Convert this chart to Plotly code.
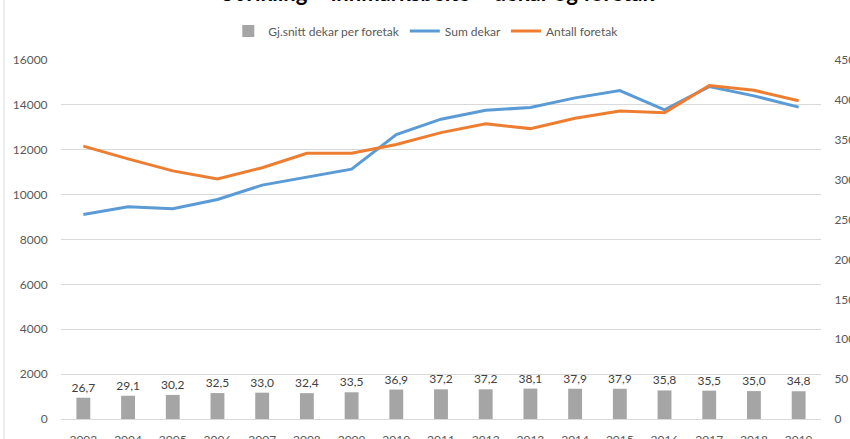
import plotly.graph_objects as go

years = ["2003", "2004", "2005", "2006", "2007", "2008", "2009", "2010", "2011",
         "2012", "2013", "2014", "2015", "2016", "2017", "2018", "2019"]
avg_dekar = [26.7, 29.1, 30.2, 32.5, 33.0, 32.4, 33.5, 36.9, 37.2, 37.2, 38.1,
             37.9, 37.9, 35.8, 35.5, 35.0, 34.8]
sum_dekar = [9114, 9457, 9368, 9782, 10423, 10780, 11136, 12677, 13363, 13764,
             13880, 14312, 14637, 13777, 14815, 14401, 13898]
antall_foretak = [342, 326, 311, 301, 315, 333, 333, 344, 359, 370, 364, 377,
                  386, 384, 418, 412, 399]
left_ticks = [0, 2000, 4000, 6000, 8000, 10000, 12000, 14000, 16000]
right_ticks = [0, 50, 100, 150, 200, 250, 300, 350, 400, 450]

FONT = "Lato, 'Liberation Sans Narrow', 'Liberation Sans', sans-serif"
GRID = "#D9D9D9"
TXT = "#595959"

W, H = 850, 439
ML, MR, MT, MB = 61, 29, 60, 20
PW, PH = W - ML - MR, H - MT - MB

fig = go.Figure()
fig.add_trace(go.Bar(
    x=years, y=avg_dekar, name="Gj.snitt dekar per foretak", yaxis="y2",
    marker=dict(color="#A5A5A5", line=dict(width=0)),
    text=[f"{v:.1f}".replace(".", ",") for v in avg_dekar],
    textposition="outside", cliponaxis=False, constraintext="none",
    textfont=dict(size=12, color="#404040", family=FONT),
    width=0.31,
))
fig.add_trace(go.Scatter(
    x=years, y=sum_dekar, name="Sum dekar", mode="lines",
    line=dict(color="#5B9BD5", width=3),
))
fig.add_trace(go.Scatter(
    x=years, y=antall_foretak, name="Antall foretak", mode="lines", yaxis="y2",
    line=dict(color="#ED7D31", width=3),
))

fig.update_layout(
    width=W, height=H,
    margin=dict(l=ML, r=MR, t=MT, b=MB, pad=0, autoexpand=False),
    paper_bgcolor="white", plot_bgcolor="white",
    font=dict(family=FONT, size=12, color=TXT),
    showlegend=True,
    legend=dict(orientation="h", x=0.48, xanchor="center", y=(H - MB - 31) / PH,
                yanchor="middle",
                font=dict(size=12, color=TXT), bgcolor="rgba(0,0,0,0)",
                itemwidth=30, tracegroupgap=0),
    xaxis=dict(type="category", showgrid=False, zeroline=False, showline=False,
               ticks="outside", ticklen=10, tickcolor="rgba(0,0,0,0)",
               tickfont=dict(size=12, color=TXT), automargin=False),
    yaxis=dict(range=[0, 16000], tickvals=left_ticks,
               ticktext=[str(v) for v in left_ticks],
               showgrid=True, gridcolor=GRID,
               gridwidth=1, zeroline=True, zerolinecolor=GRID, zerolinewidth=1,
               showline=False, ticks="outside", ticklen=10, tickcolor="rgba(0,0,0,0)",
               tickfont=dict(size=12, color=TXT), automargin=False),
    yaxis2=dict(range=[0, 450], tickvals=right_ticks,
                ticktext=[str(v) for v in right_ticks],
                overlaying="y", side="right",
                showgrid=False, zeroline=False, showline=False,
                ticks="outside", ticklen=10, tickcolor="rgba(0,0,0,0)",
                tickfont=dict(size=12, color=TXT), automargin=False),
    bargap=0.69,
)

fig.add_annotation(
    text="<b>Utvikling – innmarksbeite – dekar og foretak</b>",
    xref="paper", yref="paper", x=(436 - ML) / PW, xanchor="center",
    y=(H - MB - 8) / PH, yanchor="bottom", showarrow=False,
    font=dict(size=22, color="#000000", family=FONT),
)

fig.add_shape(type="line", xref="paper", yref="paper",
              x0=(4 - ML) / PW, x1=(4 - ML) / PW,
              y0=-0.2, y1=1.3, line=dict(color=GRID, width=1))

fig.write_html(
    "out.html",
    config={"displayModeBar": False},
    post_script="document.body.style.margin='0px';document.body.style.overflow='hidden';",
)
